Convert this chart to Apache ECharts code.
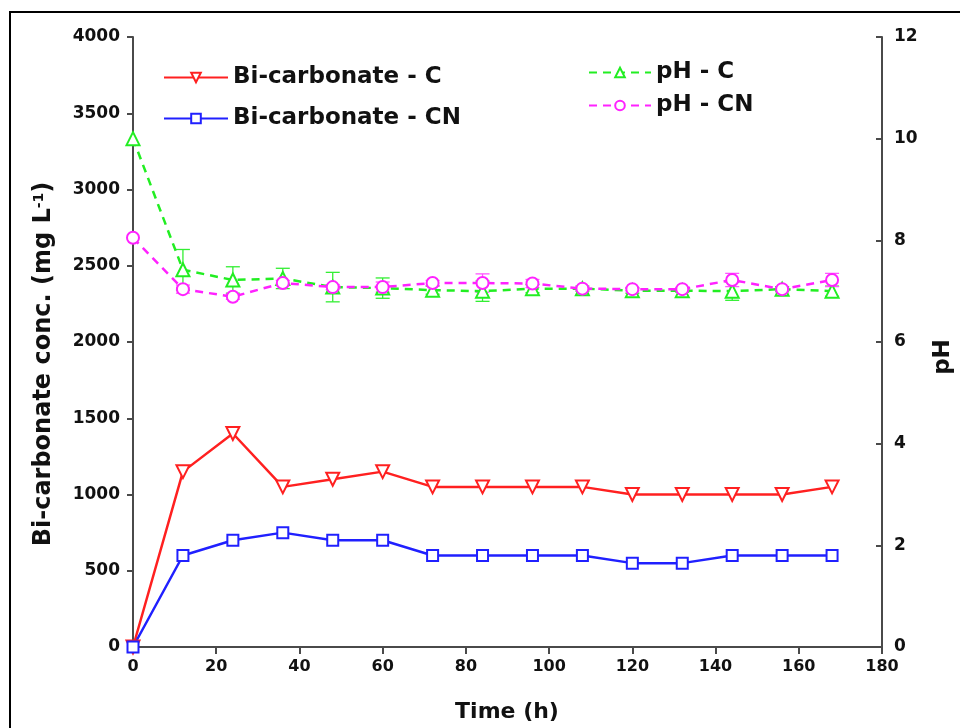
<!DOCTYPE html>
<html>
<head>
<meta charset="utf-8">
<script src="https://cdn.jsdelivr.net/npm/echarts@6/dist/echarts.min.js"></script>
<style>
  html, body { margin: 0; padding: 0; background: #fff; }
  #main { width: 960px; height: 728px; }
</style>
</head>
<body>
<div id="main"></div>
<script>
// time points (h)
var hours = [0, 12, 24, 36, 48, 60, 72, 84, 96, 108, 120, 132, 144, 156, 168];
// bicarbonate conc. (mg L-1)
var bicarbC  = [0, 1150, 1400, 1050, 1100, 1150, 1050, 1050, 1050, 1050, 1000, 1000, 1000, 1000, 1050];
var bicarbCN = [0, 600, 700, 750, 700, 700, 600, 600, 600, 600, 550, 550, 600, 600, 600];
// pH
var phC  = [10.0, 7.42, 7.22, 7.25, 7.08, 7.06, 7.02, 7.0, 7.05, 7.05, 7.01, 7.01, 7.0, 7.04, 7.0];
var phCN = [8.05, 7.04, 6.89, 7.16, 7.08, 7.08, 7.16, 7.16, 7.15, 7.05, 7.04, 7.04, 7.22, 7.04, 7.22];
// error (+/-) on pH
var phCErr  = [0, 0.4, 0.26, 0.2, 0.29, 0.2, 0.08, 0.2, 0.08, 0.05, 0.05, 0.03, 0.18, 0.05, 0.1];
var phCNErr = [0, 0.08, 0.05, 0.05, 0.05, 0.1, 0.05, 0.18, 0.08, 0.03, 0.03, 0.03, 0.13, 0.03, 0.13];

var xTicks = { min: 0, max: 180, interval: 20 };
var yLeftTicks = { min: 0, max: 4000, interval: 500 };
var yRightTicks = { min: 0, max: 12, interval: 2 };

var FONT = 'DejaVu Sans';
var axisColor = '#4a4a4a';

function pairs(vals) {
  return hours.map(function (h, i) { return [h, vals[i]]; });
}
function errData(vals, errs) {
  var out = [];
  hours.forEach(function (h, i) {
    if (errs[i] > 0) out.push([h, vals[i] - errs[i], vals[i] + errs[i]]);
  });
  return out;
}
function errRender(color) {
  return function (params, api) {
    var x = api.value(0);
    var lo = api.coord([x, api.value(1)]);
    var hi = api.coord([x, api.value(2)]);
    var hw = 7;
    var st = { stroke: color, lineWidth: 1.3 };
    return {
      type: 'group',
      children: [
        { type: 'line', shape: { x1: hi[0], y1: hi[1], x2: lo[0], y2: lo[1] }, style: st },
        { type: 'line', shape: { x1: hi[0] - hw, y1: hi[1], x2: hi[0] + hw, y2: hi[1] }, style: st },
        { type: 'line', shape: { x1: lo[0] - hw, y1: lo[1], x2: lo[0] + hw, y2: lo[1] }, style: st }
      ]
    };
  };
}
function plain(v) { return String(v); }

var myChart = echarts.init(document.getElementById('main'));
myChart.setOption({
  animation: false,
  backgroundColor: '#fff',
  grid: { left: 133, right: 78, top: 37, bottom: 81 },
  legend: [
    {
      data: ['Bi-carbonate - C', 'Bi-carbonate - CN'],
      orient: 'vertical',
      left: 158,
      top: 61,
      itemWidth: 64,
      itemHeight: 12,
      itemGap: 18,
      textStyle: { fontFamily: FONT, fontWeight: 'bold', fontSize: 23, color: '#111' }
    },
    {
      data: ['pH - C', 'pH - CN'],
      orient: 'vertical',
      left: 583,
      top: 56,
      itemWidth: 62,
      itemHeight: 12,
      itemGap: 10,
      textStyle: { fontFamily: FONT, fontWeight: 'bold', fontSize: 23, color: '#111' }
    }
  ],
  xAxis: {
    type: 'value',
    min: xTicks.min,
    max: xTicks.max,
    interval: xTicks.interval,
    axisLine: { show: true, lineStyle: { color: axisColor, width: 2 } },
    axisTick: { show: true, inside: false, length: 7, lineStyle: { color: axisColor, width: 2 } },
    axisLabel: { margin: 12, fontFamily: FONT, fontWeight: 'bold', fontSize: 16, color: '#111', formatter: plain },
    splitLine: { show: false }
  },
  yAxis: [
    {
      type: 'value',
      position: 'left',
      min: yLeftTicks.min,
      max: yLeftTicks.max,
      interval: yLeftTicks.interval,
      axisLine: { show: true, lineStyle: { color: axisColor, width: 2 } },
      axisTick: { show: true, inside: false, length: 6, lineStyle: { color: axisColor, width: 2 } },
      axisLabel: { margin: 13, fontFamily: FONT, fontWeight: 'bold', fontSize: 17, color: '#111', formatter: plain },
      splitLine: { show: false }
    },
    {
      type: 'value',
      position: 'right',
      min: yRightTicks.min,
      max: yRightTicks.max,
      interval: yRightTicks.interval,
      axisLine: { show: true, lineStyle: { color: axisColor, width: 2 } },
      axisTick: { show: true, inside: true, length: 6, lineStyle: { color: axisColor, width: 2 } },
      axisLabel: { margin: 12, fontFamily: FONT, fontWeight: 'bold', fontSize: 17, color: '#111', formatter: plain },
      splitLine: { show: false }
    }
  ],
  graphic: [
    {
      type: 'rect',
      shape: { x: 10, y: 12, width: 1000, height: 800 },
      style: { fill: 'none', stroke: '#000', lineWidth: 2 },
      silent: true
    },
    {
      type: 'text',
      x: 44,
      y: 364,
      rotation: Math.PI / 2,
      style: {
        text: '{t|Bi-carbonate conc. (mg L}{s|-1}{t|)}',
        align: 'center',
        verticalAlign: 'middle',
        rich: {
          t: { fontFamily: FONT, fontWeight: 'bold', fontSize: 24, fill: '#111' },
          s: { fontFamily: FONT, fontWeight: 'bold', fontSize: 14, fill: '#111', verticalAlign: 'top', padding: [0, 0, 10, 0] }
        }
      }
    },
    {
      type: 'text',
      x: 943,
      y: 357,
      rotation: Math.PI / 2,
      style: { text: 'pH', align: 'center', verticalAlign: 'middle', fontFamily: FONT, fontWeight: 'bold', fontSize: 23, fill: '#111' }
    },
    {
      type: 'text',
      x: 507,
      y: 712,
      style: { text: 'Time (h)', align: 'center', verticalAlign: 'middle', fontFamily: FONT, fontWeight: 'bold', fontSize: 22, fill: '#111' }
    }
  ],
  series: [
    {
      name: 'Bi-carbonate - C',
      type: 'line',
      yAxisIndex: 0,
      data: pairs(bicarbC),
      symbol: 'emptyTriangle',
      symbolRotate: 180,
      symbolSize: 13,
      color: '#ff2020',
      lineStyle: { color: '#ff2020', width: 2.5 },
      itemStyle: { color: '#ff2020', borderWidth: 1.1 }
    },
    {
      name: 'Bi-carbonate - CN',
      type: 'line',
      yAxisIndex: 0,
      data: pairs(bicarbCN),
      symbol: 'emptyRect',
      symbolSize: 11,
      color: '#2020ff',
      lineStyle: { color: '#2020ff', width: 2.5 },
      itemStyle: { color: '#2020ff', borderWidth: 1.1 }
    },
    {
      name: 'pH - C',
      type: 'line',
      yAxisIndex: 1,
      data: pairs(phC),
      symbol: 'emptyTriangle',
      symbolSize: 13,
      color: '#22ee22',
      lineStyle: { color: '#22ee22', width: 2.5, type: [8, 6] },
      itemStyle: { color: '#22ee22', borderWidth: 1.1 }
    },
    {
      name: 'pH - CN',
      type: 'line',
      yAxisIndex: 1,
      data: pairs(phCN),
      symbol: 'emptyCircle',
      symbolSize: 12,
      color: '#ff22ff',
      lineStyle: { color: '#ff22ff', width: 2.5, type: [8, 6] },
      itemStyle: { color: '#ff22ff', borderWidth: 1.1 }
    },
    {
      type: 'custom',
      yAxisIndex: 1,
      renderItem: errRender('#33ee33'),
      encode: { x: 0, y: [1, 2] },
      data: errData(phC, phCErr),
      z: 1
    },
    {
      type: 'custom',
      yAxisIndex: 1,
      renderItem: errRender('#ff55ff'),
      encode: { x: 0, y: [1, 2] },
      data: errData(phCN, phCNErr),
      z: 1
    }
  ]
});
</script>
</body>
</html>
